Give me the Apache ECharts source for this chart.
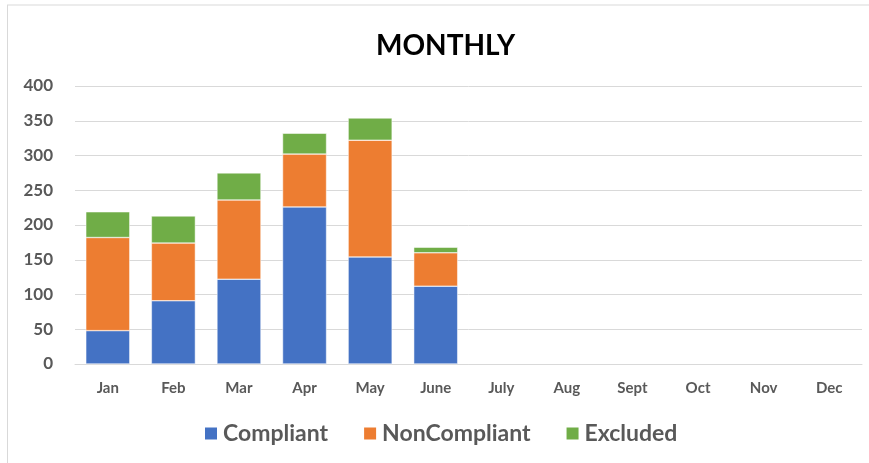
<!DOCTYPE html>
<html>
<head>
<meta charset="utf-8">
<script src="https://cdn.jsdelivr.net/npm/echarts@6/dist/echarts.min.js"></script>
<style>
  html, body { margin: 0; padding: 0; background: #fff; }
  #main { width: 869px; height: 463px; }
</style>
</head>
<body>
<div id="main"></div>
<script>
const months = ['Jan', 'Feb', 'Mar', 'Apr', 'May', 'June', 'July', 'Aug', 'Sept', 'Oct', 'Nov', 'Dec'];
const compliant = [48, 91, 122, 226, 154, 112, null, null, null, null, null, null];
const nonCompliant = [134, 83, 114, 76, 168, 48, null, null, null, null, null, null];
const excluded = [37, 39, 39, 30, 32, 8, null, null, null, null, null, null];

const chartDom = document.getElementById('main');
const myChart = echarts.init(chartDom);
const font = 'Lato, "Open Sans", sans-serif';

const barStyle = (color) => ({
    color: color,
    borderColor: '#ffffff',
    borderWidth: 0.5
});

const option = {
    animation: false,
    backgroundColor: '#ffffff',
    title: {
        text: 'MONTHLY',
        left: 371,
        top: 27,
        textStyle: { fontFamily: font, fontSize: 28, fontWeight: 'bold', color: '#000000' }
    },
    legend: {
        bottom: 13,
        left: 198,
        itemWidth: 14,
        itemHeight: 14,
        itemGap: 34,
        icon: 'rect',
        textStyle: { fontFamily: font, fontSize: 23, fontWeight: 'bold', color: '#595959' },
        data: ['Compliant', 'NonCompliant', 'Excluded']
    },
    grid: { left: 75, right: 7, top: 86, bottom: 99 },
    xAxis: {
        type: 'category',
        data: months,
        axisLine: { lineStyle: { color: '#d9d9d9' } },
        axisTick: { show: false },
        axisLabel: { fontFamily: font, fontSize: 15, fontWeight: 'bold', color: '#595959', margin: 17 }
    },
    yAxis: {
        type: 'value',
        min: 0,
        max: 400,
        interval: 50,
        axisLine: { show: false },
        axisTick: { show: false },
        splitLine: { lineStyle: { color: '#d9d9d9' } },
        axisLabel: { fontFamily: font, fontSize: 17, fontWeight: 'bold', color: '#595959', margin: 22 }
    },
    series: [
        { name: 'Compliant', type: 'bar', stack: 'total', barWidth: 44, data: compliant, itemStyle: barStyle('#4472c4') },
        { name: 'NonCompliant', type: 'bar', stack: 'total', barWidth: 44, data: nonCompliant, itemStyle: barStyle('#ed7d31') },
        { name: 'Excluded', type: 'bar', stack: 'total', barWidth: 44, data: excluded, itemStyle: barStyle('#70ad47') }
    ],
    graphic: [
        { type: 'line', shape: { x1: 7, y1: 5, x2: 869, y2: 5 }, style: { stroke: '#d9d9d9', lineWidth: 1 } },
        { type: 'line', shape: { x1: 7.5, y1: 5, x2: 7.5, y2: 463 }, style: { stroke: '#d9d9d9', lineWidth: 1 } }
    ]
};

option && myChart.setOption(option);
</script>
</body>
</html>
